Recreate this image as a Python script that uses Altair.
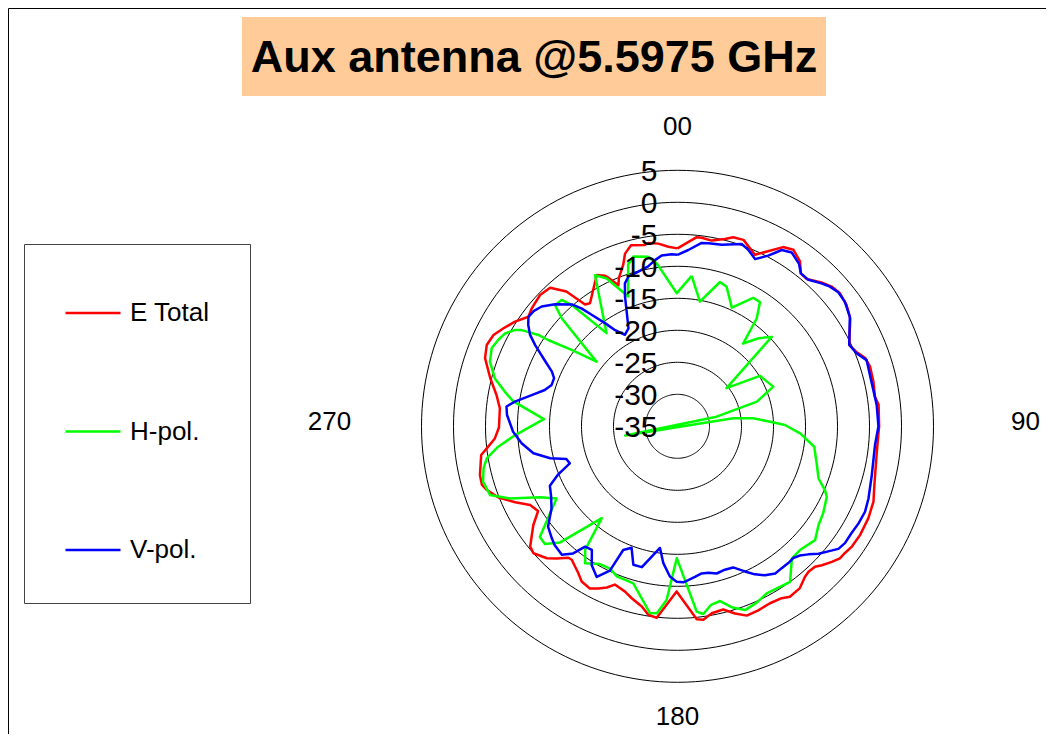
import altair as alt
import pandas as pd

TITLE = "Aux antenna @5.5975 GHz"
SERIES = ["E Total", "H-pol.", "V-pol."]
COLORS = ["#FF0000", "#00FF00", "#0000FF"]

# radial axis (dB): centre of the chart is the minimum
R_MIN = -35
RINGS = [5, 0, -5, -10, -15, -20, -25, -30]
RING_TEXT = ["5", "0", "-5", "-10", "-15", "-20", "-25", "-30", "-35"]
RING_VALUES = [5, 0, -5, -10, -15, -20, -25, -30, -35]
ANGLE_TICKS = [0, 90, 180, 270]
ANGLE_TEXT = ["00", "90", "180", "270"]

# E Total
E_ANG = [0.0, 5.8, 7.3, 10.4, 14.2, 16.4, 19.5, 24.3, 30.5, 33.3, 36.6, 38.9, 41.2, 45.0, 47.8, 50.7, 54.4, 58.1, 64.6, 67.6,
         69.9, 72.8, 77.2, 81.5, 83.9, 90.0, 97.3, 106.6, 111.0, 115.7, 120.8, 124.6, 127.2, 129.1, 131.3, 133.9, 135.6, 138.0, 139.7, 142.9,
         146.6, 148.8, 152.4, 156.3, 159.9, 162.9, 166.0, 169.6, 172.4, 174.3, 180.3, 186.2, 188.8, 191.2, 194.9, 197.6, 201.6, 203.7, 206.0, 208.4,
         211.7, 214.0, 218.4, 219.7, 222.5, 224.7, 228.6, 230.8, 235.6, 238.7, 241.9, 244.9, 248.3, 251.5, 253.3, 256.1, 261.7, 263.4, 266.2, 269.6,
         275.8, 279.8, 284.4, 289.5, 293.1, 296.4, 299.4, 302.8, 306.3, 309.0, 313.7, 317.4, 320.5, 322.8, 324.6, 331.9, 334.3, 335.2, 337.3, 338.4,
         341.4, 343.1, 345.6, 349.8, 350.9, 354.0, 357.1]
E_DB = [-7.2, -5.3, -5.3, -5.5, -4.8, -4.2, -4.1, -5.6, -2.5, -2.0, -2.9, -4.3, -4.4, -3.2, -2.5, -2.2, -2.5, -3.2, -5.3, -4.7,
        -3.8, -3.5, -3.6, -3.8, -3.4, -3.5, -3.6, -2.9, -2.2, -1.9, -1.8, -1.9, -2.2, -2.3, -2.9, -3.7, -4.3, -4.4, -4.2, -3.3,
        -3.1, -3.6, -3.8, -3.6, -3.5, -4.4, -5.5, -5.3, -4.5, -4.7, -9.2, -4.9, -5.2, -6.3, -7.2, -7.9, -8.4, -7.5, -6.8, -6.2,
        -6.5, -7.3, -8.4, -8.3, -7.0, -6.0, -5.0, -5.3, -7.7, -9.5, -8.9, -7.0, -4.9, -3.6, -3.1, -3.2, -4.0, -5.0, -6.4, -7.1,
        -7.1, -6.3, -4.8, -3.1, -2.6, -2.9, -3.8, -4.8, -6.1, -5.7, -5.3, -5.6, -7.7, -11.1, -11.4, -8.2, -8.9, -9.5, -11.1, -10.1,
        -8.4, -6.8, -5.8, -6.2, -6.0, -6.3, -6.9]

# H-pol.
H_ANG = [5.4, 10.2, 16.4, 19.4, 24.6, 30.5, 33.6, 36.3, 38.4, 42.6, 46.5, 52.1, 58.5, 67.5, 72.7, 76.2, 80.0, 81.8, 84.0, 87.2,
         89.3, 93.3, 98.5, 105.5, 110.3, 113.4, 115.3, 120.8, 125.0, 129.6, 135.3, 139.1, 144.1, 148.5, 151.9, 155.8, 159.8, 163.1, 166.3, 169.4,
         172.2, 174.1, 180.3, 183.6, 186.3, 188.4, 195.7, 202.0, 205.4, 209.4, 214.0, 216.8, 219.5, 225.3, 228.4, 231.2, 239.2, 242.7, 246.7, 249.9,
         254.1, 257.8, 260.5, 263.5, 266.9, 273.1, 278.7, 281.3, 284.7, 289.0, 292.8, 295.7, 298.3, 300.7, 301.7, 303.3, 303.7, 305.8, 308.6, 313.0,
         314.7, 317.5, 318.9, 322.7, 331.4, 334.4, 339.2, 343.0, 345.4, 350.2, 352.7, 359.7]
H_DB = [-11.4, -15.2, -11.5, -11.9, -14.6, -11.7, -11.7, -14.1, -18.5, -16.3, -14.7, -25.3, -19.9, -18.8, -22.0, -28.7, -43.3, -26.2, -23.1, -20.5,
        -18.2, -15.8, -13.4, -12.4, -11.5, -9.9, -9.2, -8.5, -8.1, -7.1, -7.8, -7.7, -5.0, -5.3, -5.4, -4.8, -4.4, -5.4, -6.9, -6.6,
        -5.4, -5.9, -14.4, -7.8, -5.6, -5.5, -9.5, -9.7, -10.4, -10.3, -9.2, -10.9, -16.4, -9.2, -7.3, -7.4, -13.0, -10.8, -6.5, -3.8,
        -3.4, -4.0, -4.8, -6.8, -9.6, -14.1, -9.0, -7.5, -5.5, -4.0, -3.5, -3.9, -4.4, -5.5, -6.4, -9.0, -10.7, -14.6, -18.8, -10.3,
        -8.1, -8.2, -9.8, -16.7, -8.1, -9.4, -13.3, -8.6, -7.6, -8.1, -9.3, -14.2]

# V-pol.
V_ANG = [0.0, 3.5, 7.5, 9.6, 13.7, 15.6, 19.4, 21.9, 24.9, 28.0, 30.6, 33.3, 36.8, 38.9, 41.8, 45.2, 47.5, 50.2, 53.3, 57.6,
         64.6, 67.8, 70.7, 72.6, 78.5, 81.9, 83.9, 90.0, 95.4, 104.1, 110.7, 114.5, 118.2, 121.6, 124.9, 127.3, 129.7, 132.1, 134.4, 136.6,
         138.7, 141.0, 143.7, 146.4, 149.6, 152.4, 155.1, 158.5, 161.7, 165.1, 168.1, 170.7, 173.4, 176.0, 177.9, 180.3, 182.9, 185.9, 188.2, 194.2,
         197.7, 200.7, 203.7, 205.1, 208.2, 211.7, 214.7, 217.5, 219.4, 222.0, 225.9, 228.3, 232.2, 236.9, 240.9, 245.0, 247.9, 251.0, 253.6, 255.9,
         259.4, 263.8, 268.1, 273.8, 276.6, 278.6, 282.1, 285.3, 288.2, 291.3, 293.5, 296.9, 299.7, 301.8, 304.2, 306.3, 308.7, 311.4, 314.9, 319.1,
         320.9, 322.4, 324.9, 327.0, 330.1, 333.4, 336.1, 338.0, 339.8, 341.8, 344.5, 349.6, 352.3, 354.7, 358.1]
V_DB = [-8.2, -7.4, -6.1, -6.0, -5.8, -5.5, -4.8, -5.3, -6.2, -4.8, -3.0, -2.5, -3.3, -4.3, -4.3, -3.3, -2.7, -2.3, -2.4, -3.1,
        -5.3, -4.8, -3.7, -3.8, -3.9, -3.8, -3.7, -3.6, -4.0, -3.7, -3.1, -2.8, -2.9, -3.1, -3.1, -3.4, -4.4, -5.3, -6.4, -7.2,
        -7.6, -7.5, -7.5, -7.4, -8.0, -8.9, -10.0, -11.3, -11.4, -11.2, -11.6, -11.7, -11.3, -10.9, -10.6, -10.7, -11.5, -13.5, -15.8, -12.3,
        -12.3, -14.7, -13.9, -10.1, -8.3, -9.5, -11.5, -11.3, -9.3, -8.0, -8.3, -8.7, -9.4, -11.5, -12.4, -13.0, -14.8, -17.2, -16.9, -14.5,
        -12.1, -10.5, -9.3, -8.3, -8.1, -9.3, -11.7, -13.5, -14.3, -14.3, -13.6, -11.5, -9.4, -7.9, -6.8, -6.1, -6.2, -6.7, -8.0, -9.8,
        -11.3, -13.0, -15.3, -17.1, -18.5, -17.9, -15.4, -13.1, -11.2, -10.4, -10.2, -9.6, -8.8, -8.2, -8.1]

# ---------------- layout (pixels) ----------------
W, H = 1038, 726          # whole chart = plot area (no axes)
CX, CY = 669.5, 418.3     # polar centre inside the chart
K = 6.4                   # pixels per dB
RX_LAB, RY_LAB = 348 / K, 295 / K   # angle-label distance (in dB units)
FONT = "Liberation Sans"


def series_frame(name, angs, dbs):
    rows = [dict(series=name, angle=a, db=d, idx=i) for i, (a, d) in enumerate(zip(angs, dbs))]
    rows.append(dict(series=name, angle=angs[0] + 360, db=dbs[0], idx=len(angs)))
    return pd.DataFrame(rows)


xs = alt.Scale(domain=[-CX / K, (W - CX) / K], nice=False, zero=False)
ys = alt.Scale(domain=[-(H - CY) / K, CY / K], nice=False, zero=False)
X = alt.X("x:Q", scale=xs, axis=None)
Y = alt.Y("y:Q", scale=ys, axis=None)


def polar(ch):
    return (ch.transform_calculate(r=f"datum.db - ({R_MIN})")
              .transform_calculate(x="datum.r * sin(datum.angle * PI / 180)")
              .transform_calculate(y="datum.r * cos(datum.angle * PI / 180)"))


legend = alt.Legend(orient="none", legendX=16, legendY=236, padding=40,
                    strokeColor="#444444", symbolType="stroke", symbolSize=3025,
                    symbolStrokeWidth=2.5, labelFontSize=26, labelFont=FONT,
                    labelColor="black", labelOffset=8, rowPadding=76.5)
color = alt.Color("series:N", scale=alt.Scale(domain=SERIES, range=COLORS),
                  legend=legend, title=None)

# title box + title text
title_df = pd.DataFrame({"title": [TITLE]})
box = alt.Chart(title_df).mark_rect(fill="#FFCC99").encode(
    x=alt.value(234), x2=alt.value(818), y=alt.value(9), y2=alt.value(88))
ttl = alt.Chart(title_df).mark_text(fontSize=45, fontWeight="bold", font=FONT,
                                    baseline="alphabetic", align="center", color="black").encode(
    x=alt.value(526), y=alt.value(63.5), text="title:N")

# rings (grid circles)
ring_rows = [dict(db=lv, angle=a) for lv in RINGS for a in range(0, 362, 2)]
rings = polar(alt.Chart(pd.DataFrame(ring_rows))).mark_line(
    color="black", strokeWidth=1).encode(x=X, y=Y, detail="db:N", order="angle:Q")

# data lines
lines = []
for name, angs, dbs in [("E Total", E_ANG, E_DB), ("H-pol.", H_ANG, H_DB), ("V-pol.", V_ANG, V_DB)]:
    lines.append(polar(alt.Chart(series_frame(name, angs, dbs))).mark_line(
        strokeWidth=2.5, strokeJoin="round").encode(x=X, y=Y, color=color, order="idx:Q"))

# radial labels
rl_df = pd.DataFrame({"db": RING_VALUES, "label": RING_TEXT, "angle": [0] * len(RING_VALUES)})
ring_labels = polar(alt.Chart(rl_df)).mark_text(
    align="right", baseline="middle", dx=-20, dy=2, fontSize=30, font=FONT, color="black").encode(
    x=X, y=Y, text="label:N")

# angular labels
al_df = pd.DataFrame({"angle": ANGLE_TICKS, "label": ANGLE_TEXT})
angle_labels = (alt.Chart(al_df)
                .transform_calculate(x=f"{RX_LAB} * sin(datum.angle * PI / 180)")
                .transform_calculate(y=f"{RY_LAB} * cos(datum.angle * PI / 180)")
                .mark_text(align="center", baseline="middle", dy=-4, fontSize=26, font=FONT, color="black")
                .encode(x=X, y=Y, text="label:N"))

chart = alt.layer(box, ttl, rings, *lines, ring_labels, angle_labels).properties(
    width=W, height=H, padding=0, autosize=alt.AutoSizeParams(type="none")
).configure_view(stroke="black", strokeWidth=1)

chart.save("out.html", embed_options={"renderer": "svg", "actions": False})
